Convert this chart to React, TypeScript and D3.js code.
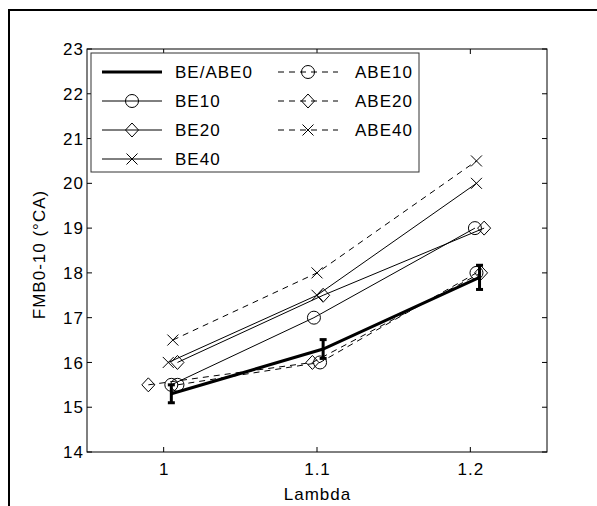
import React from "react";
import * as d3 from "d3";

const W = 597;
const H = 506;

const xTicks = [1, 1.1, 1.2];
const yTicks = [14, 15, 16, 17, 18, 19, 20, 21, 22, 23];

const seriesNames = ["BE/ABE0", "BE10", "BE20", "BE40", "ABE10", "ABE20", "ABE40"];
const seriesMarkers = ["none", "circle", "diamond", "cross", "circle", "diamond", "cross"];
const seriesDashed = [false, false, false, false, true, true, true];
const seriesThick = [true, false, false, false, false, false, false];

const xBE0 = [1.005, 1.104, 1.206];
const yBE0 = [15.3, 16.3, 17.9];
const errBE0 = [0.2, 0.21, 0.27];

const xBE10 = [1.005, 1.098, 1.203];
const yBE10 = [15.5, 17.0, 19.0];
const xBE20 = [1.009, 1.104, 1.209];
const yBE20 = [16.0, 17.5, 19.0];
const xBE40 = [1.003, 1.1, 1.204];
const yBE40 = [16.0, 17.5, 20.0];
const xABE10 = [1.009, 1.102, 1.204];
const yABE10 = [15.5, 16.0, 18.0];
const xABE20 = [0.99, 1.097, 1.207];
const yABE20 = [15.5, 16.0, 18.0];
const xABE40 = [1.006, 1.1, 1.204];
const yABE40 = [16.5, 18.0, 20.5];

const seriesX = [xBE0, xBE10, xBE20, xBE40, xABE10, xABE20, xABE40];
const seriesY = [yBE0, yBE10, yBE20, yBE40, yABE10, yABE20, yABE40];

const FONT = "'Liberation Sans', Arial, Helvetica, sans-serif";
const FS = 17;
const LS = 1;

function Marker({ type, cx, cy }: { type: string; cx: number; cy: number }) {
  const s = 6.5;
  if (type === "circle")
    return <circle cx={cx} cy={cy} r={s} fill="none" stroke="#000" strokeWidth={1} />;
  if (type === "diamond")
    return (
      <path
        d={`M${cx},${cy - s - 0.5}L${cx + s},${cy}L${cx},${cy + s + 0.5}L${cx - s},${cy}Z`}
        fill="none"
        stroke="#000"
        strokeWidth={1}
      />
    );
  if (type === "cross") {
    const c = 5.5;
    return (
      <path
        d={`M${cx - c},${cy - c}L${cx + c},${cy + c}M${cx - c},${cy + c}L${cx + c},${cy - c}`}
        fill="none"
        stroke="#000"
        strokeWidth={1}
      />
    );
  }
  return null;
}

export default function App() {
  const left = 87,
    right = 547,
    top = 49,
    bottom = 452;
  const x = d3.scaleLinear().domain([0.95, 1.25]).range([left, right]);
  const y = d3.scaleLinear().domain([14, 23]).range([bottom, top]);
  const line = d3
    .line<[number, number]>()
    .x((d) => x(d[0]))
    .y((d) => y(d[1]));

  const tick = 5;
  const legX = 91,
    legY = 53,
    legW = 328,
    legH = 119;
  const rowY = [72, 101, 130, 159];
  const col = [
    { l0: 102, l1: 162, tx: 175 },
    { l0: 278, l1: 338, tx: 355 },
  ];
  const legendItems = seriesNames.map((n, i) => {
    const c = i < 4 ? 0 : 1;
    const r = i < 4 ? i : i - 4;
    return { name: n, i, c, r };
  });

  return (
    <svg width={W} height={H} style={{ position: "absolute", left: 0, top: 0 }}>
      <rect x={0} y={0} width={W} height={H} fill="#fff" />
      <rect x={9} y={10} width={W + 20} height={H + 20} fill="none" stroke="#000" strokeWidth={2} />
      <rect x={left} y={top} width={right - left} height={bottom - top} fill="#fff" stroke="#000" strokeWidth={1} />

      {/* ticks */}
      {xTicks.map((t) => (
        <g key={"xt" + t}>
          <line x1={x(t)} x2={x(t)} y1={bottom} y2={bottom - tick} stroke="#000" />
          <line x1={x(t)} x2={x(t)} y1={top} y2={top + tick} stroke="#000" />
          <text x={x(t) + LS / 2} y={475} textAnchor="middle" fontFamily={FONT} fontSize={FS} letterSpacing={LS} fill="#000">
            {d3.format("")(t)}
          </text>
        </g>
      ))}
      {yTicks.map((t) => (
        <g key={"yt" + t}>
          <line x1={left} x2={left + tick} y1={y(t)} y2={y(t)} stroke="#000" />
          <line x1={right} x2={right - tick} y1={y(t)} y2={y(t)} stroke="#000" />
          <text x={left - 4 + LS} y={y(t)} dy="0.36em" textAnchor="end" fontFamily={FONT} fontSize={FS} letterSpacing={LS} fill="#000">
            {t}
          </text>
        </g>
      ))}

      <text x={x(1.1) + LS / 2} y={500} textAnchor="middle" fontFamily={FONT} fontSize={FS} letterSpacing={LS} fill="#000">
        Lambda
      </text>
      <text
        transform={`translate(45,${(top + bottom) / 2 + 4}) rotate(-90)`}
        textAnchor="middle"
        fontFamily={FONT}
        fontSize={FS}
        letterSpacing={LS}
        fill="#000"
      >
        FMB0-10 (°CA)
      </text>

      {/* series lines */}
      {seriesNames.map((n, i) => {
        const pts = seriesX[i].map((xv, k) => [xv, seriesY[i][k]] as [number, number]);
        return (
          <path
            key={"l" + n}
            d={line(pts) || ""}
            fill="none"
            stroke="#000"
            strokeWidth={seriesThick[i] ? 3 : 1}
            strokeDasharray={seriesDashed[i] ? "6,5" : undefined}
          />
        );
      })}
      {seriesNames.map((n, i) =>
        seriesX[i].map((xv, k) => (
          <Marker key={n + k} type={seriesMarkers[i]} cx={x(xv)} cy={y(seriesY[i][k])} />
        ))
      )}
      {/* error bars */}
      {xBE0.map((xv, k) => (
        <g key={"e" + k}>
          <line x1={x(xv)} x2={x(xv)} y1={y(yBE0[k] - errBE0[k])} y2={y(yBE0[k] + errBE0[k])} stroke="#000" strokeWidth={3} />
          <line x1={x(xv) - 3.5} x2={x(xv) + 3.5} y1={y(yBE0[k] - errBE0[k])} y2={y(yBE0[k] - errBE0[k])} stroke="#000" strokeWidth={3} />
          <line x1={x(xv) - 3.5} x2={x(xv) + 3.5} y1={y(yBE0[k] + errBE0[k])} y2={y(yBE0[k] + errBE0[k])} stroke="#000" strokeWidth={3} />
        </g>
      ))}

      {/* legend */}
      <rect x={legX} y={legY} width={legW} height={legH} fill="#fff" stroke="#333" strokeWidth={1} />
      {legendItems.map((it) => {
        const c = col[it.c];
        const ly = rowY[it.r];
        return (
          <g key={"lg" + it.name}>
            <line
              x1={c.l0}
              x2={c.l1}
              y1={ly}
              y2={ly}
              stroke="#000"
              strokeWidth={seriesThick[it.i] ? 3 : 1}
              strokeDasharray={seriesDashed[it.i] ? "6,5" : undefined}
            />
            <Marker type={seriesMarkers[it.i]} cx={(c.l0 + c.l1) / 2} cy={ly} />
            <text x={c.tx} y={ly} dy="0.36em" fontFamily={FONT} fontSize={FS} letterSpacing={LS} fill="#000">
              {it.name}
            </text>
          </g>
        );
      })}
    </svg>
  );
}
